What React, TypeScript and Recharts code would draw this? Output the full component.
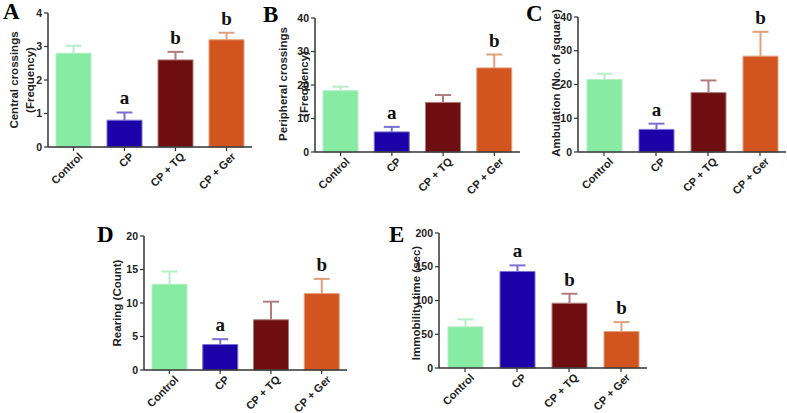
import { ComposedChart, Bar, XAxis, YAxis, Cell, LabelList } from 'recharts';

const groups = ['Control', 'CP', 'CP + TQ', 'CP + Ger'];
const barColors = ['#88eba4', '#1c00a8', '#6e0e10', '#d2541e'];
const errColors = ['#b4eec6', '#7a70d4', '#b27c7c', '#e0a07c'];

// A - central crossings
const centralMean = [2.8, 0.8, 2.6, 3.2];
const centralSem = [0.22, 0.23, 0.24, 0.21];
const centralSig = ['', 'a', 'b', 'b'];
const centralTicks = [0, 1, 2, 3, 4];

// B - peripheral crossings
const periphMean = [18.3, 6.0, 14.8, 25.1];
const periphSem = [1.2, 1.5, 2.2, 4.0];
const periphSig = ['', 'a', '', 'b'];
const periphTicks = [0, 10, 20, 30, 40];

// C - ambulation
const ambulMean = [21.5, 6.7, 17.6, 28.4];
const ambulSem = [1.7, 1.7, 3.6, 7.2];
const ambulSig = ['', 'a', '', 'b'];
const ambulTicks = [0, 10, 20, 30, 40];

// D - rearing
const rearMean = [12.8, 3.8, 7.5, 11.4];
const rearSem = [1.9, 0.8, 2.7, 2.2];
const rearSig = ['', 'a', '', 'b'];
const rearTicks = [0, 5, 10, 15, 20];

// E - immobility
const immobMean = [61, 143, 96, 54];
const immobSem = [11, 9, 14, 14];
const immobSig = ['', 'a', 'b', 'b'];
const immobTicks = [0, 50, 100, 150, 200];

const rows = (mean: number[], sem: number[], sig: string[]) =>
  groups.map((name, i) => ({ name, mean: mean[i], sem: sem[i], sig: sig[i] }));

const axisColor = '#333';
const sans = '"Liberation Sans", Arial, sans-serif';
const serif = '"Liberation Serif", "Times New Roman", serif';

const Whisker = (p: any) => {
  const cx = p.x + p.width / 2;
  const c = errColors[p.index];
  return (
    <g>
      <line x1={cx} x2={cx} y1={p.y} y2={p.y + p.height} stroke={c} strokeWidth={2} />
      <line x1={cx - 8} x2={cx + 8} y1={p.y} y2={p.y} stroke={c} strokeWidth={2} />
    </g>
  );
};

const XTick = ({ x, y, payload }: any) => (
  <g transform={`translate(${x},${y})`}>
    <text x={0} y={0} dx={4} dy={10} textAnchor="end" transform="rotate(-45)" fontSize={11} fontWeight="bold" fill="#222" fontFamily={sans}>
      {payload.value}
    </text>
  </g>
);

function Panel({ data, ticks, left, top, width, height, margin, xh }: any) {
  const max = ticks[ticks.length - 1];
  return (
    <div style={{ position: 'absolute', left, top }}>
      <ComposedChart width={width} height={height} data={data} margin={margin}>
        <XAxis
          dataKey="name"
          height={xh}
          interval={0}
          tick={<XTick />}
          tickSize={4}
          axisLine={{ stroke: axisColor, strokeWidth: 1.5 }}
          tickLine={{ stroke: axisColor, strokeWidth: 1.2 }}
        />
        <YAxis
          width={30}
          domain={[0, max]}
          ticks={ticks}
          interval={0}
          tickSize={4}
          tick={{ fontSize: 10.5, fontWeight: 'bold', fill: '#222', fontFamily: sans }}
          axisLine={{ stroke: axisColor, strokeWidth: 1.5 }}
          tickLine={{ stroke: axisColor, strokeWidth: 1.2 }}
        />
        <Bar dataKey="mean" stackId="s" barSize={35} isAnimationActive={false}>
          {data.map((_: any, i: number) => (
            <Cell key={i} fill={barColors[i]} stroke={errColors[i]} strokeWidth={1} />
          ))}
        </Bar>
        <Bar dataKey="sem" stackId="s" barSize={35} shape={<Whisker />} isAnimationActive={false}>
          <LabelList dataKey="sig" position="top" offset={8} fontSize={19} fontWeight="bold" fill="#111" fontFamily={serif} />
        </Bar>
      </ComposedChart>
    </div>
  );
}

const titleStyle = { fontSize: 11.5, fontWeight: 'bold' as const, fill: '#222', fontFamily: sans };
const letterStyle = { fontSize: 23, fontWeight: 'bold' as const, fill: '#000', fontFamily: serif };

const YTitle = ({ x, y, text }: any) => (
  <text transform={`translate(${x},${y}) rotate(-90)`} textAnchor="middle" {...titleStyle}>
    {text}
  </text>
);

export default function App() {
  return (
    <div style={{ position: 'fixed', left: 0, top: 0, width: 787, height: 413, background: '#fff' }}>
      <Panel data={rows(centralMean, centralSem, centralSig)} ticks={centralTicks} left={0} top={0} width={262} height={200}
        margin={{ top: 13, right: 10, bottom: 3, left: 18 }} xh={50} />
      <Panel data={rows(periphMean, periphSem, periphSig)} ticks={periphTicks} left={262} top={0} width={262} height={200}
        margin={{ top: 18, right: 4, bottom: 3, left: 23 }} xh={45} />
      <Panel data={rows(ambulMean, ambulSem, ambulSig)} ticks={ambulTicks} left={524} top={0} width={263} height={200}
        margin={{ top: 17, right: 1, bottom: 3, left: 24 }} xh={45} />
      <Panel data={rows(rearMean, rearSem, rearSig)} ticks={rearTicks} left={90} top={215} width={270} height={198}
        margin={{ top: 21, right: 13, bottom: 3, left: 24 }} xh={40} />
      <Panel data={rows(immobMean, immobSem, immobSig)} ticks={immobTicks} left={385} top={215} width={270} height={198}
        margin={{ top: 18, right: 8, bottom: 5, left: 24 }} xh={40} />
      <svg width={787} height={413} style={{ position: 'absolute', left: 0, top: 0, pointerEvents: 'none' }}>
        <text x={3} y={19} {...letterStyle}>A</text>
        <text x={263} y={22} {...letterStyle}>B</text>
        <text x={526} y={21} {...letterStyle}>C</text>
        <text x={97} y={242} {...letterStyle}>D</text>
        <text x={389} y={242} {...letterStyle}>E</text>
        <YTitle x={17.5} y={80} text="Central crossings" />
        <YTitle x={33.5} y={80} text="(Frequency)" />
        <YTitle x={286.5} y={84} text="Peripheral crossings" />
        <YTitle x={307.5} y={84} text="(Frequency)" />
        <YTitle x={560} y={83} text="Ambulation (No. of square)" />
        <YTitle x={121} y={303} text="Rearing (Count)" />
        <YTitle x={420} y={303} text="Immobility time (sec)" />
      </svg>
    </div>
  );
}
